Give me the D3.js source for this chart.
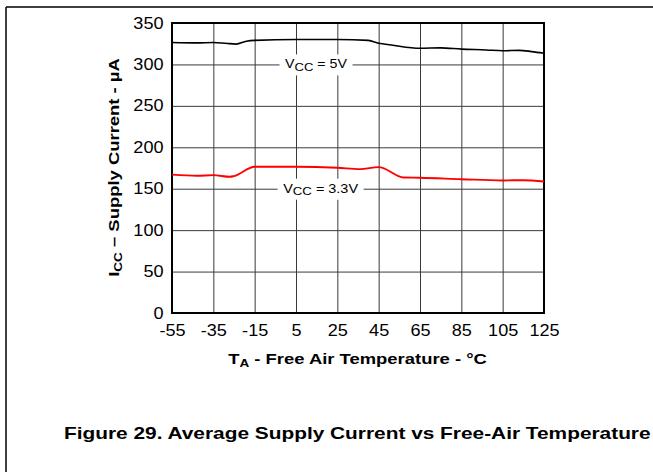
<!DOCTYPE html>
<html>
<head>
<meta charset="utf-8">
<script src="https://cdn.jsdelivr.net/npm/d3@7"></script>
<style>
    body { margin: 0; background: #fff; }
    svg text { font-family: Arial, "Liberation Sans", Helvetica, sans-serif; }
</style>
</head>
<body>
<svg id="chart" width="653" height="472"></svg>
<script>
// temperature (°C) vs supply current (µA)
var temps5v = [-55, -43, -35, -29, -24, -19, -15, 5, 25, 40, 45, 51, 65, 75, 85, 97, 105, 113, 119, 125];
var icc5v = [326.5, 326, 326.5, 325.5, 324.5, 328, 329, 330, 330, 329, 325.5, 323.5, 319.5, 320, 318.5, 317.5, 316.5, 317, 315.5, 313.5];

var temps33v = [-55, -43, -35, -27, -25, -15, 5, 25, 36, 45, 57, 65, 85, 105, 115, 125];
var icc33v = [167, 165.6, 166.4, 164.4, 165.2, 176.5, 176.5, 175.3, 173.7, 176.1, 163.6, 163.2, 161.5, 160, 160.3, 158.7];

var xTicks = [-55, -35, -15, 5, 25, 45, 65, 85, 105, 125];
var yTicks = [0, 50, 100, 150, 200, 250, 300, 350];

var seriesVolts = ["5V", "3.3V"];
var seriesColors = ["#000000", "#ff0000"];

var svg = d3.select("#chart");

// stretch a text horizontally (around its anchor) to a measured width
function fitWidth(text, target) {
    var w = text.node().getBBox().width;
    text.attr("transform", "scale(" + (target / w) + ",1)");
}

var margin = {top: 23, right: 109, bottom: 159, left: 172},
    width = +svg.attr("width") - margin.left - margin.right,
    height = +svg.attr("height") - margin.top - margin.bottom,
    g = svg.append("g").attr("transform", "translate(" + margin.left + "," + margin.top + ")");

var x = d3.scaleLinear().domain([-55, 125]).range([0, width]),
    y = d3.scaleLinear().domain([0, 350]).range([height, 0]);

// page border lines
svg.append("line")
    .attr("x1", 6).attr("x2", 653).attr("y1", 7).attr("y2", 7)
    .attr("stroke", "#000").attr("stroke-width", 1.5);
svg.append("line")
    .attr("x1", 6).attr("x2", 6).attr("y1", 7).attr("y2", 472)
    .attr("stroke", "#000").attr("stroke-width", 1.5);

var axisX = d3.axisBottom(x)
    .tickValues(xTicks)
    .tickSize(-height)
    .tickFormat(function (d) { return d; });

var axisY = d3.axisLeft(y)
    .tickValues(yTicks)
    .tickSize(-width)
    .tickFormat(function (d) { return d; });

var gx = g.append("g")
    .attr("class", "axis axis--x")
    .attr("transform", "translate(0," + height + ")")
    .call(axisX);

var gy = g.append("g")
    .attr("class", "axis axis--y")
    .call(axisY);

[gx, gy].forEach(function (a) {
    a.select(".domain").remove();
    a.selectAll("line").attr("stroke", "#3a3a3a").attr("stroke-width", 1);
    a.selectAll("text")
        .attr("font-family", null)
        .style("font-size", "16px")
        .attr("fill", "#000");
});

gx.selectAll("text")
    .attr("y", 23)
    .attr("dy", 0)
    .attr("transform", "scale(1.13,1)");

gy.selectAll("text")
    .attr("x", 0)
    .attr("dy", "0.32em")
    .attr("transform", "translate(-8.5,0) scale(1.13,1)");

// plot frame
g.append("rect")
    .attr("width", width)
    .attr("height", height)
    .attr("fill", "none")
    .attr("stroke", "#000")
    .attr("stroke-width", 2);

var line = d3.line()
    .curve(d3.curveMonotoneX)
    .x(function (d) { return x(d[0]); })
    .y(function (d) { return y(d[1]); });

var series = [d3.zip(temps5v, icc5v), d3.zip(temps33v, icc33v)];

g.selectAll(".icc")
    .data(series)
    .enter().append("path")
    .attr("class", "icc")
    .attr("fill", "none")
    .attr("stroke", function (d, i) { return seriesColors[i]; })
    .attr("stroke-width", function (d, i) { return i == 0 ? 1.6 : 1.9; })
    .attr("d", line);

// series labels sitting on the gridlines
var labelAt = [[14.7, 300, 62], [16.9, 150, 75]];

labelAt.forEach(function (p, i) {
    var lg = g.append("g")
        .attr("transform", "translate(" + x(p[0]) + "," + y(p[1]) + ")");
    lg.append("rect")
        .attr("x", -p[2] / 2 - 5.5)
        .attr("y", -10)
        .attr("width", p[2] + 11)
        .attr("height", 21)
        .attr("fill", "#fff");
    var lt = lg.append("g").attr("transform", "translate(0,4)")
        .append("text")
        .attr("text-anchor", "middle")
        .style("font-size", "12px");
    lt.append("tspan").text("V");
    lt.append("tspan").attr("dy", 2.5).style("font-size", "11px").text("CC");
    lt.append("tspan").attr("dy", -2.5).text(" = " + seriesVolts[i]);
    fitWidth(lt, p[2]);
});

// axis titles
var xt = svg.append("g").attr("transform", "translate(357.5,364)")
    .append("text")
    .attr("text-anchor", "middle")
    .style("font-size", "15px")
    .style("font-weight", "bold");
xt.append("tspan").text("T");
xt.append("tspan").attr("dy", 3).style("font-size", "11px").text("A");
xt.append("tspan").attr("dy", -3).text(" - Free Air Temperature - °C");
fitWidth(xt, 259);

var yt = svg.append("g").attr("transform", "translate(119,167.5) rotate(-90)")
    .append("text")
    .attr("text-anchor", "middle")
    .style("font-size", "15px")
    .style("font-weight", "bold");
yt.append("tspan").text("I");
yt.append("tspan").attr("dy", 3).style("font-size", "11px").text("CC");
yt.append("tspan").attr("dy", -3).text(" \u2013 Supply Current - µA");
fitWidth(yt, 219);

// figure caption
var cap = svg.append("g").attr("transform", "translate(64,439)")
    .append("text")
    .style("font-size", "16px")
    .style("font-weight", "bold")
    .text("Figure 29. Average Supply Current vs Free-Air Temperature");
fitWidth(cap, 587);
</script>
</body>
</html>
